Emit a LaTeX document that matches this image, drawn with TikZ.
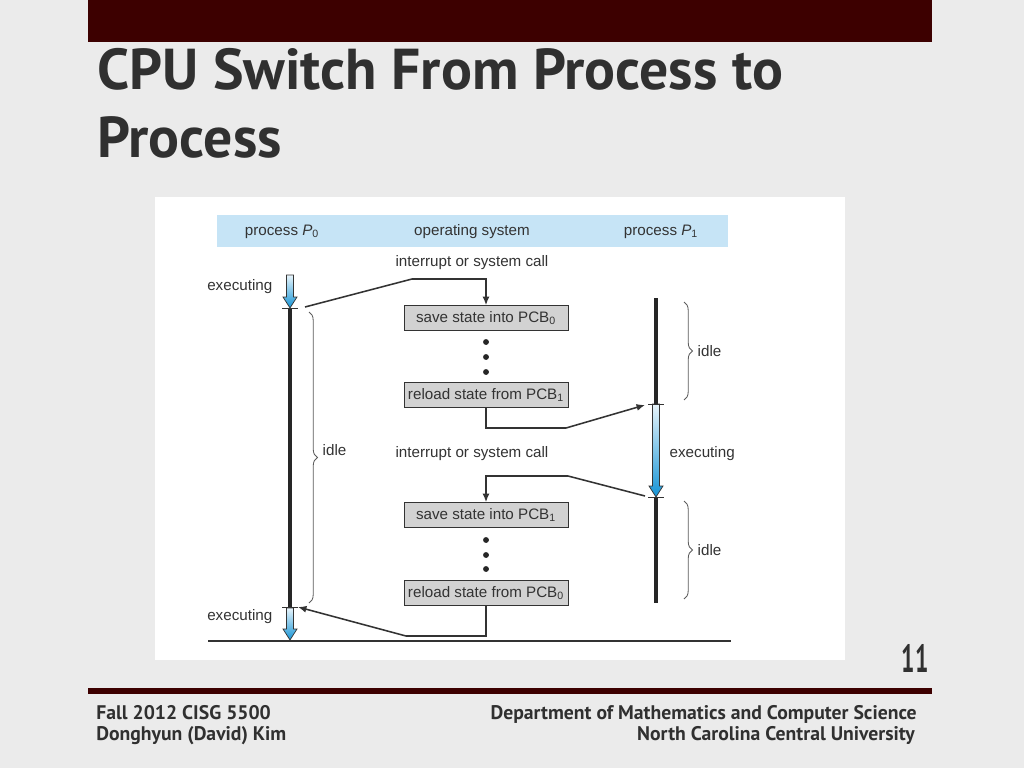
\documentclass[tikz,border=0pt]{standalone}
\usepackage{fontspec}
\setmainfont{Liberation Sans}
\newfontfamily\slidefont{PT Sans}
\usetikzlibrary{arrows.meta,decorations.pathreplacing}

\definecolor{slidebg}{HTML}{EBEBEB}
\definecolor{maroon}{HTML}{3D0000}
\definecolor{slidetext}{HTML}{303030}
\definecolor{headband}{HTML}{C6E4F6}
\definecolor{boxgray}{HTML}{D2D2D2}
\definecolor{runblue}{HTML}{1594D6}
\definecolor{ink}{HTML}{333333}

\tikzset{
  conn/.style={draw=ink,line width=1.1pt,-{Latex[length=6pt,width=5pt]}},
  statebox/.style={draw=ink,line width=0.6pt,fill=boxgray,
    minimum width=4.1cm,minimum height=0.62cm,inner sep=0pt},
  timeline/.style={draw=black!85,line width=2.6pt},
  tick/.style={draw=ink,line width=0.7pt},
  idlebrace/.style={draw=ink!80,line width=0.6pt,
    decorate,decoration={brace,amplitude=6pt}},
  diag/.style={text=ink,font=\fontsize{10.8}{13}\selectfont,inner sep=1pt},
  footer/.style={text=slidetext,font=\slidefont\bfseries\fontsize{14}{16}\selectfont,inner sep=0pt},
}

% blue "executing" arrow: x, top, tip
\newcommand{\execarrow}[3]{%
  \shadedraw[top color=runblue!10,bottom color=runblue,draw=ink,line width=0.5pt]
    (#1-3.5,#2) -- (#1+3.5,#2) -- (#1+3.5,#3-11) -- (#1+7,#3-11) -- (#1,#3)
    -- (#1-7,#3-11) -- (#1-3.5,#3-11) -- cycle;}

\begin{document}
\begin{tikzpicture}[x=0.025cm,y=-0.025cm]
  \useasboundingbox (0,0) rectangle (1024,768);
  \fill[slidebg] (0,0) rectangle (1024,768);

  % slide frame
  \fill[maroon] (88,0) rectangle (932,42);
  \node[anchor=base west,inner sep=0pt,text=slidetext,
    font=\slidefont\bfseries\fontsize{41}{48}\selectfont] (title1) at (97,90)
    {CPU Switch From Process to};
  \node[anchor=base west,inner sep=0pt,text=slidetext,
    font=\slidefont\bfseries\fontsize{41}{48}\selectfont] (title2) at (97,158)
    {Process};

  \fill[white] (155,197) rectangle (845,660);
  \fill[headband] (217,215) rectangle (728,247);
  \node[diag] (hp0) at (282,232) {process \textit{P}\textsubscript{0}};
  \node[diag] (hos) at (472,232) {operating system};
  \node[diag] (hp1) at (661,232) {process \textit{P}\textsubscript{1}};

  % operating system column
  \node[diag] (int1) at (472,263) {interrupt or system call};
  \node[statebox,diag] (save0) at (486,318) {save state into PCB\textsubscript{0}};
  \node[statebox,diag] (reload1) at (486,395) {reload state from PCB\textsubscript{1}};
  \node[diag] (int2) at (472,454) {interrupt or system call};
  \node[statebox,diag] (save1) at (486,515) {save state into PCB\textsubscript{1}};
  \node[statebox,diag] (reload0) at (486,593) {reload state from PCB\textsubscript{0}};
  \foreach \y in {342,357,372,540,555,569}
    \fill[black!85] (486,\y) circle (2.1pt);

  % process P0
  \execarrow{290}{275}{308}
  \draw[timeline] (290,308) -- (290,607);
  \execarrow{290}{608}{640}
  \draw[tick] (282,308) -- (298,308);
  \draw[tick] (282,607) -- (298,607);
  \node[diag,anchor=east] (exec0a) at (274,287) {executing};
  \node[diag,anchor=east] (exec0b) at (274,617) {executing};
  \draw[idlebrace] (309,312) -- (309,603);
  \node[diag,anchor=west] (idle0) at (321,450) {idle};

  % process P1
  \draw[timeline] (656,298) -- (656,404);
  \execarrow{656}{404}{497}
  \draw[timeline] (656,497) -- (656,603);
  \draw[tick] (648,404) -- (664,404);
  \draw[tick] (648,497) -- (664,497);
  \node[diag,anchor=west] (exec1) at (668,454) {executing};
  \draw[idlebrace] (684,302) -- (684,400);
  \node[diag,anchor=west] (idle1a) at (696,351) {idle};
  \draw[idlebrace] (684,501) -- (684,599);
  \node[diag,anchor=west] (idle1b) at (696,550) {idle};

  % switches
  \coordinate (p0out) at (305,307);
  \coordinate (p1in) at (645,405);
  \coordinate (p1out) at (645,496);
  \coordinate (p0in) at (298,607);
  \draw[conn] (p0out) -- (412,279) -| (save0.north);
  \draw[conn] (reload1.south) |- (566,428) -- (p1in);
  \draw[conn] (p1out) -- (568,476) -| (save1.north);
  \draw[conn] (reload0.south) |- (406,636) -- (p0in);
  \draw[draw=ink,line width=1pt] (208,641) -- (731,641);

  % footer
  \node[anchor=base east,inner sep=0pt,text=slidetext,
    font=\slidefont\bfseries\fontsize{28}{30}\selectfont] (pagenum) at (929,672)
    {\scalebox{0.6}[1]{11}};
  \draw[maroon,line width=3.6pt] (88,691) -- (932,691);
  \node[footer,anchor=base west] (course) at (96,719) {Fall 2012 CISG 5500};
  \node[footer,anchor=base west] (author) at (96,740) {Donghyun (David) Kim};
  \node[footer,anchor=base east] (dept) at (917,719)
    {Department of Mathematics and Computer Science};
  \node[footer,anchor=base east] (univ) at (915,740)
    {North Carolina Central University};
\end{tikzpicture}
\end{document}
